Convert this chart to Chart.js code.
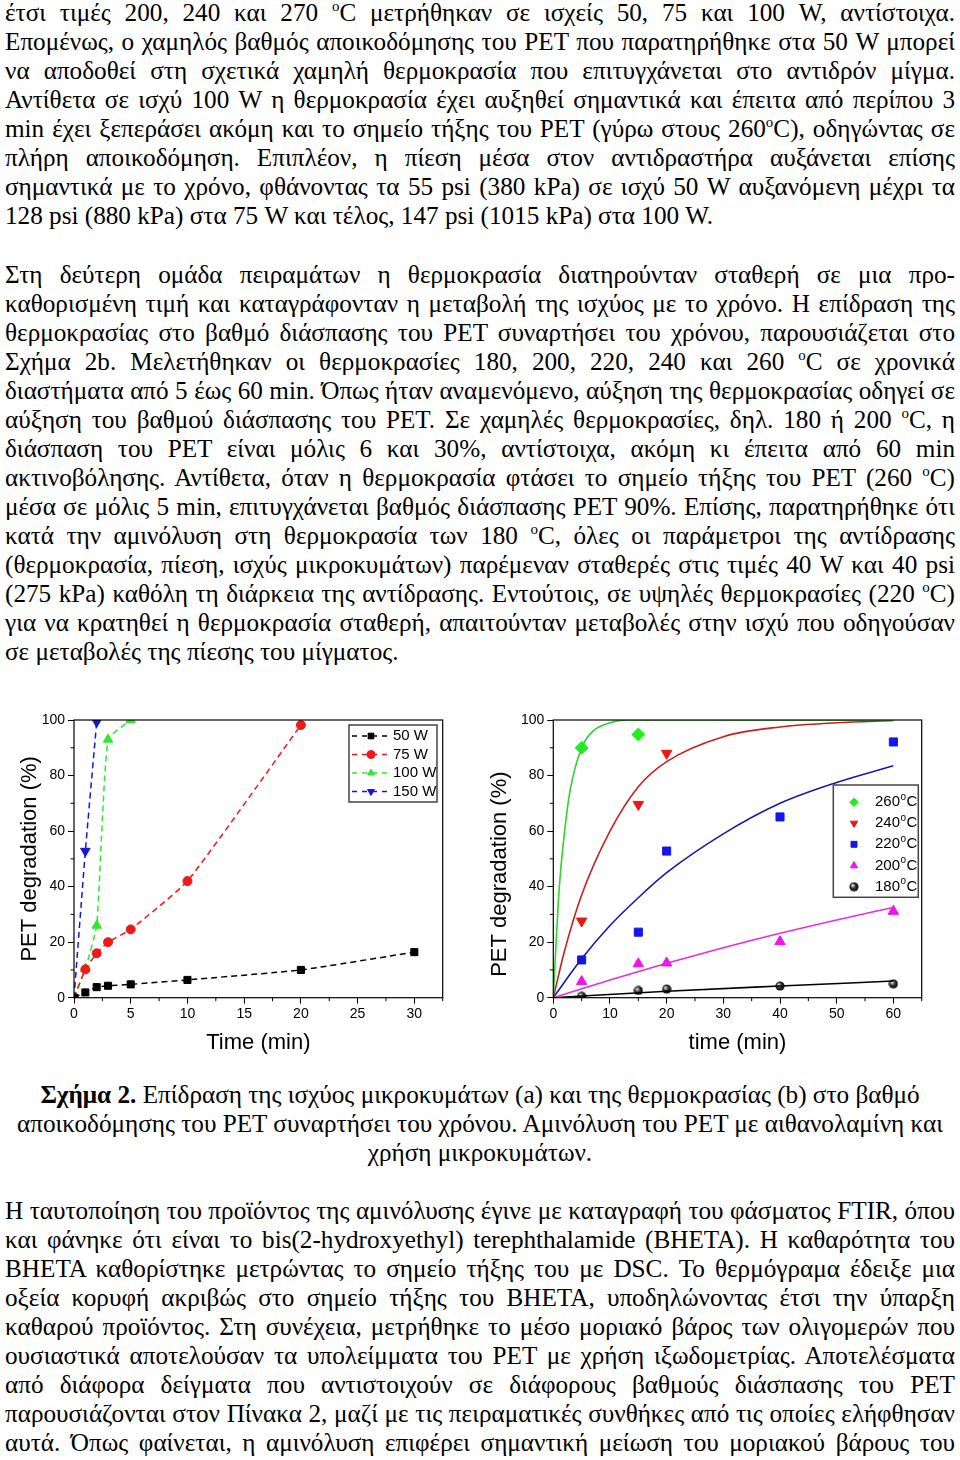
<!DOCTYPE html>
<html>
<head>
<meta charset="utf-8">
<script src="https://cdn.jsdelivr.net/npm/chart.js@4.4.0/dist/chart.umd.min.js"></script>
<style>
body{margin:0;width:960px;height:1460px;background:#fff;position:relative;overflow:hidden;font-family:"Liberation Serif","Times New Roman",serif;font-size:25.2px;color:#000}
.para{position:absolute;left:5px;width:950px;line-height:29px}
.ln{white-space:nowrap;height:29px}
.ln span{display:inline-block}
#capt .ln{text-align:center}
sup{font-size:15px;vertical-align:10px;line-height:0}
.cv{position:absolute;top:700px;width:480px;height:365px}
</style>
</head>
<body>
<div class="para" id="p1"></div>
<div class="para" id="p2"></div>
<div class="cv" style="left:0"><canvas id="chartA" width="480" height="365"></canvas></div>
<div class="cv" style="left:480px"><canvas id="chartB" width="480" height="365"></canvas></div>
<div class="para" id="capt"></div>
<div class="para" id="p3"></div>
<script>
// Fig 2a - effect of microwave power
const powerLabels = ['50 W', '75 W', '100 W', '150 W'];
const t50 = [0, 1, 2, 3, 5, 10, 20, 30];
const d50 = [0, 1.9, 3.8, 4.3, 4.8, 6.4, 10, 16.4];
const t75 = [0, 1, 2, 3, 5, 10, 20];
const d75 = [0, 10.2, 16, 20, 24.6, 42, 98.2];
const t100 = [0, 1, 2, 3, 5];
const d100 = [0, 10.4, 26, 93, 100];
const t150 = [0, 1, 2];
const d150 = [0, 52.8, 99.3];
const minorXa = [2.5, 7.5, 12.5, 17.5, 22.5, 27.5, 32.5];

// Fig 2b - effect of temperature (measured points)
const tempLabels = ['260°C', '240°C', '220°C', '200°C', '180°C'];
const m260t = [5, 15];
const m260 = [90, 94.8];
const m240t = [5, 15, 20];
const m240 = [27.6, 69.6, 88];
const m220t = [5, 15, 20, 40, 60];
const m220 = [13.6, 23.6, 52.8, 65.1, 92.1];
const m200t = [5, 15, 20, 40, 60];
const m200 = [5.8, 12.2, 12.5, 20.2, 31.1];
const m180t = [5, 15, 20, 40, 60];
const m180 = [0.5, 2.6, 3.1, 4.2, 5.0];
// fitted curves
const f260t = [0, 1, 2, 3, 5, 7, 10, 13, 20, 60];
const f260 = [0, 38, 60, 75, 90, 96, 99, 100, 100, 100];
const f240t = [0, 2, 5, 10, 15, 20, 30, 40, 50, 60];
const f240 = [0, 17, 37, 60, 76, 85, 94, 97.5, 99, 99.8];
const f220t = [0, 5, 10, 15, 20, 30, 40, 50, 60];
const f220 = [0, 14, 26, 36, 45, 59, 70, 77.5, 83.5];
const f200t = [0, 10, 20, 30, 40, 50, 60];
const f200 = [0, 6.4, 12.4, 18, 23.2, 28, 32.5];
const f180t = [0, 20, 40, 60];
const f180 = [0, 2.3, 4.2, 6.0];
const minorXb = [5, 15, 25, 35, 45, 55, 65];
const minorY = [10, 30, 50, 70, 90];

const p1Lines = [
  'έτσι τιμές 200, 240 και 270 <sup>o</sup>C μετρήθηκαν σε ισχείς 50, 75 και 100 W, αντίστοιχα.',
  'Επομένως, ο χαμηλός βαθμός αποικοδόμησης του PET που παρατηρήθηκε στα 50 W μπορεί',
  'να αποδοθεί στη σχετικά χαμηλή θερμοκρασία που επιτυγχάνεται στο αντιδρόν μίγμα.',
  'Αντίθετα σε ισχύ 100 W η θερμοκρασία έχει αυξηθεί σημαντικά και έπειτα από περίπου 3',
  'min έχει ξεπεράσει ακόμη και το σημείο τήξης του PET (γύρω στους 260<sup>o</sup>C), οδηγώντας σε',
  'πλήρη αποικοδόμηση. Επιπλέον, η πίεση μέσα στον αντιδραστήρα αυξάνεται επίσης',
  'σημαντικά με το χρόνο, φθάνοντας τα 55 psi (380 kPa) σε ισχύ 50 W αυξανόμενη μέχρι τα',
  '128 psi (880 kPa) στα 75 W και τέλος, 147 psi (1015 kPa) στα 100 W.'
];
const p2Lines = [
  'Στη δεύτερη ομάδα πειραμάτων η θερμοκρασία διατηρούνταν σταθερή σε μια προ-',
  'καθορισμένη τιμή και καταγράφονταν η μεταβολή της ισχύος με το χρόνο. Η επίδραση της',
  'θερμοκρασίας στο βαθμό διάσπασης του PET συναρτήσει του χρόνου, παρουσιάζεται στο',
  'Σχήμα 2b. Μελετήθηκαν οι θερμοκρασίες 180, 200, 220, 240 και 260 <sup>o</sup>C σε χρονικά',
  'διαστήματα από 5 έως 60 min. Όπως ήταν αναμενόμενο, αύξηση της θερμοκρασίας οδηγεί σε',
  'αύξηση του βαθμού διάσπασης του PET. Σε χαμηλές θερμοκρασίες, δηλ. 180 ή 200 <sup>o</sup>C, η',
  'διάσπαση του PET είναι μόλις 6 και 30%, αντίστοιχα, ακόμη κι έπειτα από 60 min',
  'ακτινοβόλησης. Αντίθετα, όταν η θερμοκρασία φτάσει το σημείο τήξης του PET (260 <sup>o</sup>C)',
  'μέσα σε μόλις 5 min, επιτυγχάνεται βαθμός διάσπασης PET 90%. Επίσης, παρατηρήθηκε ότι',
  'κατά την αμινόλυση στη θερμοκρασία των 180 <sup>o</sup>C, όλες οι παράμετροι της αντίδρασης',
  '(θερμοκρασία, πίεση, ισχύς μικροκυμάτων) παρέμεναν σταθερές στις τιμές 40 W και 40 psi',
  '(275 kPa) καθόλη τη διάρκεια της αντίδρασης. Εντούτοις, σε υψηλές θερμοκρασίες (220 <sup>o</sup>C)',
  'για να κρατηθεί η θερμοκρασία σταθερή, απαιτούνταν μεταβολές στην ισχύ που οδηγούσαν',
  'σε μεταβολές της πίεσης του μίγματος.'
];
const captLines = [
  '<b>Σχήμα 2.</b> Επίδραση της ισχύος μικροκυμάτων (a) και της θερμοκρασίας (b) στο βαθμό',
  'αποικοδόμησης του PET συναρτήσει του χρόνου. Αμινόλυση του PET με αιθανολαμίνη και',
  'χρήση μικροκυμάτων.'
];
const p3Lines = [
  'Η ταυτοποίηση του προϊόντος της αμινόλυσης έγινε με καταγραφή του φάσματος FTIR, όπου',
  'και φάνηκε ότι είναι το bis(2-hydroxyethyl) terephthalamide (BHETA). Η καθαρότητα του',
  'BHETA καθορίστηκε μετρώντας το σημείο τήξης του με DSC. Το θερμόγραμα έδειξε μια',
  'οξεία κορυφή ακριβώς στο σημείο τήξης του BHETA, υποδηλώνοντας έτσι την ύπαρξη',
  'καθαρού προϊόντος. Στη συνέχεια, μετρήθηκε το μέσο μοριακό βάρος των ολιγομερών που',
  'ουσιαστικά αποτελούσαν τα υπολείμματα του PET με χρήση ιξωδομετρίας. Αποτελέσματα',
  'από διάφορα δείγματα που αντιστοιχούν σε διάφορους βαθμούς διάσπασης του PET',
  'παρουσιάζονται στον Πίνακα 2, μαζί με τις πειραματικές συνθήκες από τις οποίες ελήφθησαν',
  'αυτά. Όπως φαίνεται, η αμινόλυση επιφέρει σημαντική μείωση του μοριακού βάρους του'
];

// each line is justified to the full width, except the last one of a paragraph
function layoutText(id, lines, top, mode) {
  const box = document.getElementById(id);
  box.style.top = top + 'px';
  const W = 950;
  lines.forEach(function(html, i) {
    const ln = document.createElement('div');
    ln.className = 'ln';
    const sp = document.createElement('span');
    sp.innerHTML = html;
    ln.appendChild(sp);
    box.appendChild(ln);
    const w = sp.getBoundingClientRect().width;
    const last = mode === 'center' || (mode === 'end' && i === lines.length - 1);
    if (w > W) {
      sp.style.transformOrigin = 'left';
      sp.style.transform = 'scaleX(' + (W / w) + ')';
    } else if (!last) {
      const n = (sp.textContent.match(/ /g) || []).length;
      if (n) sp.style.wordSpacing = ((W - w) / n) + 'px';
    }
  });
}
layoutText('p1', p1Lines, -2, 'end');
layoutText('p2', p2Lines, 260, 'end');
layoutText('capt', captLines, 1080, 'center');
layoutText('p3', p3Lines, 1196, 'open');

function pts(xs, ys) {
  return xs.map(function(x, i) { return {x: x, y: ys[i]}; });
}

// shaded ball marker for 180 C
const ball = document.createElement('canvas');
ball.width = 10; ball.height = 10;
(function() {
  const c = ball.getContext('2d');
  const g = c.createRadialGradient(3.5, 3.5, 0.5, 5, 5, 5);
  g.addColorStop(0, '#e0e0e0');
  g.addColorStop(0.45, '#333');
  g.addColorStop(1, '#000');
  c.fillStyle = g;
  c.beginPath(); c.arc(5, 5, 4.6, 0, Math.PI * 2); c.fill();
})();

const SANS = '"Liberation Sans", Arial, sans-serif';

function drawMarker(ctx, ds, x, y, r) {
  const opts = {pointStyle: ds.pointStyle, rotation: ds.pointRotation || 0, radius: r, borderWidth: 1};
  ctx.save();
  ctx.fillStyle = ds.pointBackgroundColor;
  ctx.strokeStyle = ds.pointBorderColor;
  ctx.lineWidth = 1;
  ctx.setLineDash([]);
  Chart.helpers.drawPoint(ctx, opts, x, y);
  ctx.restore();
}

function drawLabel(ctx, text, x, y) {
  ctx.fillStyle = '#000';
  ctx.textBaseline = 'middle';
  ctx.textAlign = 'left';
  const parts = text.split('°');
  ctx.font = '15px ' + SANS;
  ctx.fillText(parts[0], x, y);
  if (parts.length > 1) {
    let cx = x + ctx.measureText(parts[0]).width;
    ctx.font = '10px ' + SANS;
    ctx.fillText('o', cx + 0.5, y - 5);
    cx += ctx.measureText('o').width + 1;
    ctx.font = '15px ' + SANS;
    ctx.fillText(parts[1], cx, y);
  }
}

const framePlugin = {
  id: 'frame',
  afterDatasetsDraw(chart, args, opts) {
    const {ctx, chartArea: a, scales} = chart;
    ctx.save();
    ctx.strokeStyle = '#000';
    ctx.lineWidth = 1.2;
    ctx.strokeRect(a.left, a.top, a.right - a.left, a.bottom - a.top);
    ctx.lineWidth = 1;
    ctx.beginPath();
    opts.xMinor.forEach(function(v) {
      const px = scales.x.getPixelForValue(v);
      ctx.moveTo(px, a.bottom); ctx.lineTo(px, a.bottom + 3.5);
    });
    opts.yMinor.forEach(function(v) {
      const py = scales.y.getPixelForValue(v);
      ctx.moveTo(a.left, py); ctx.lineTo(a.left - 3.5, py);
    });
    ctx.stroke();
    ctx.restore();
  },
  afterDraw(chart, args, opts) {
    const L = opts.legend;
    const ctx = chart.ctx;
    ctx.save();
    ctx.fillStyle = '#fff';
    ctx.fillRect(L.box[0], L.box[1], L.box[2], L.box[3]);
    ctx.strokeStyle = '#444';
    ctx.lineWidth = 1.5;
    ctx.strokeRect(L.box[0], L.box[1], L.box[2], L.box[3]);
    L.items.forEach(function(di, i) {
      const ds = chart.data.datasets[di];
      const y = L.rowY[i];
      if (L.line) {
        ctx.strokeStyle = ds.borderColor;
        ctx.lineWidth = ds.borderWidth;
        ctx.setLineDash([5, 5]);
        ctx.beginPath(); ctx.moveTo(L.line[0], y); ctx.lineTo(L.line[1], y); ctx.stroke();
      }
      drawMarker(ctx, ds, L.markX, y, L.markR);
      drawLabel(ctx, ds.label, L.textX, y);
    });
    ctx.restore();
  }
};

function axes(xmax, xstep, xtitle, yW, yTitle, yTitlePad) {
  const tickFont = {family: SANS, size: 14};
  const titleFont = {family: SANS, size: 22};
  return {
    x: {
      type: 'linear', min: 0, max: xmax,
      border: {display: false},
      grid: {drawOnChartArea: false, tickLength: 6, tickColor: '#000'},
      ticks: {stepSize: xstep, includeBounds: false, color: '#000', font: tickFont, padding: 2, maxRotation: 0, autoSkip: false},
      title: {display: true, text: xtitle, color: '#000', font: titleFont, padding: {top: 0, bottom: 9}},
      afterFit: function(s) { s.height = 67.3; }
    },
    y: {
      min: 0, max: 100,
      border: {display: false},
      grid: {drawOnChartArea: false, tickLength: 6, tickColor: '#000'},
      ticks: {stepSize: 20, color: '#000', font: tickFont, padding: 3},
      title: {display: true, text: yTitle, color: '#000', font: titleFont, padding: {top: yTitlePad, bottom: 0}},
      afterFit: function(s) { s.width = yW; }
    }
  };
}

function dashed(label, xs, ys, color, style, r, rot) {
  return {
    label: label, data: pts(xs, ys),
    borderColor: color, borderWidth: 1.5, borderDash: [6, 4],
    pointStyle: style, pointRotation: rot || 0, pointRadius: r,
    pointBackgroundColor: color, pointBorderColor: color, pointBorderWidth: 1,
    tension: 0.15
  };
}

new Chart(document.getElementById('chartA'), {
  type: 'line',
  data: {
    datasets: [
      dashed(powerLabels[0], t50, d50, '#000000', 'rect', 5),
      dashed(powerLabels[1], t75, d75, '#f01818', 'circle', 4.5),
      dashed(powerLabels[2], t100, d100, '#2ee82e', 'triangle', 5.5),
      dashed(powerLabels[3], t150, d150, '#1616d8', 'triangle', 5.5, 180)
    ]
  },
  options: {
    responsive: false, animation: false,
    layout: {padding: {left: 0, right: 37.3, top: 20, bottom: 0}},
    scales: axes(32.5, 5, 'Time (min)', 74, 'PET degradation (%)', 17),
    plugins: {
      legend: {display: false}, tooltip: {enabled: false},
      frame: {
        xMinor: minorXa, yMinor: minorY,
        legend: {box: [349, 25, 88, 77], rowY: [36, 54.5, 73, 91.5], items: [0, 1, 2, 3],
                 line: [352, 389], markX: 371, markR: 4, textX: 393}
      }
    }
  },
  plugins: [framePlugin]
});

function marks(label, xs, ys, color, style, r, rot) {
  return {
    label: label, data: pts(xs, ys), showLine: false,
    pointStyle: style, pointRotation: rot || 0, pointRadius: r,
    pointBackgroundColor: color, pointBorderColor: color, pointBorderWidth: 1
  };
}
function fit(xs, ys, color) {
  return {
    label: 'fit', data: pts(xs, ys), borderColor: color, borderWidth: 1.6,
    pointRadius: 0, cubicInterpolationMode: 'monotone'
  };
}

new Chart(document.getElementById('chartB'), {
  type: 'line',
  data: {
    datasets: [
      fit(f260t, f260, '#2ed42e'),
      fit(f240t, f240, '#c82020'),
      fit(f220t, f220, '#1a1aa8'),
      fit(f200t, f200, '#e030e0'),
      fit(f180t, f180, '#000000'),
      marks(tempLabels[0], m260t, m260, '#22ee22', 'rectRot', 6.5),
      marks(tempLabels[1], m240t, m240, '#ee1414', 'triangle', 6, 180),
      marks(tempLabels[2], m220t, m220, '#1414ee', 'rect', 5.7),
      marks(tempLabels[3], m200t, m200, '#ee14ee', 'triangle', 6),
      marks(tempLabels[4], m180t, m180, '#000000', ball, 5)
    ]
  },
  options: {
    responsive: false, animation: false,
    layout: {padding: {left: 0, right: 38.3, top: 20, bottom: 0}},
    scales: axes(65, 10, 'time (min)', 73.3, 'PET degradation (%)     ', 7),
    plugins: {
      legend: {display: false}, tooltip: {enabled: false},
      frame: {
        xMinor: minorXb, yMinor: minorY,
        legend: {box: [353.3, 85, 85, 112.3], rowY: [102.3, 123.3, 144.3, 165.7, 186.7], items: [5, 6, 7, 8, 9],
                 line: null, markX: 374, markR: 4.2, textX: 395}
      }
    }
  },
  plugins: [framePlugin]
});
</script>
</body>
</html>
